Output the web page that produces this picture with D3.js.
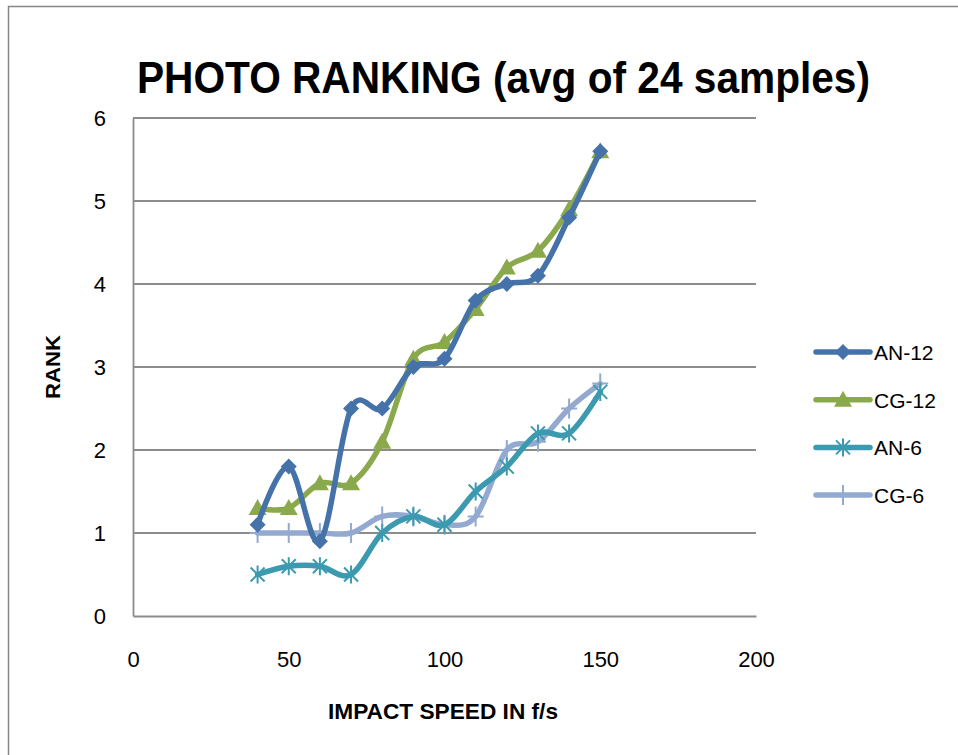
<!DOCTYPE html>
<html>
<head>
<meta charset="utf-8">
<script src="https://cdn.jsdelivr.net/npm/d3@7"></script>
<style>
  body { margin: 0; background: #fff; }
  text { font-family: "Liberation Sans", Arial, sans-serif; }
</style>
</head>
<body>
<div id="container"></div>
<script>
// data
const speeds = [40, 50, 60, 70, 80, 90, 100, 110, 120, 130, 140, 150];
const an12 = [1.1, 1.8, 0.9, 2.5, 2.5, 3.0, 3.1, 3.8, 4.0, 4.1, 4.8, 5.6];
const cg12 = [1.3, 1.3, 1.6, 1.6, 2.1, 3.1, 3.3, 3.7, 4.2, 4.4, 4.9, 5.6];
const an6 = [0.5, 0.6, 0.6, 0.5, 1.0, 1.2, 1.1, 1.5, 1.8, 2.2, 2.2, 2.7];
const cg6 = [1.0, 1.0, 1.0, 1.0, 1.2, 1.2, 1.1, 1.2, 2.0, 2.1, 2.5, 2.8];
const seriesNames = ["AN-12", "CG-12", "AN-6", "CG-6"];
const xTicks = [0, 50, 100, 150, 200];
const yTicks = [0, 1, 2, 3, 4, 5, 6];

const series = [
  { name: seriesNames[0], values: an12, color: "#4573a9", marker: "diamond" },
  { name: seriesNames[1], values: cg12, color: "#8aa94d", marker: "triangle" },
  { name: seriesNames[2], values: an6, color: "#3c9ab0", marker: "star" },
  { name: seriesNames[3], values: cg6, color: "#93a9d0", marker: "plus" }
];

const W = 958, H = 755;
const margin = { left: 133, top: 118, right: 202, bottom: 139 };

const svg = d3.select("#container").append("svg")
  .attr("width", W).attr("height", H);

// outer frame (only left and top edges are in view)
svg.append("path")
  .attr("d", `M8.5,${H} V6.5 H${W}`)
  .attr("fill", "none").attr("stroke", "#868686").attr("stroke-width", 1.5);

const x = d3.scaleLinear().domain([0, 200]).range([margin.left, W - margin.right]);
const y = d3.scaleLinear().domain([0, 6]).range([H - margin.bottom, margin.top]);

// title
svg.append("text")
  .attr("x", 137).attr("y", 93)
  .attr("textLength", 733).attr("lengthAdjust", "spacingAndGlyphs")
  .attr("font-size", 44).attr("font-weight", "bold")
  .text("PHOTO RANKING (avg of 24 samples)");

// gridlines
svg.append("g").selectAll("line")
  .data(yTicks.filter(d => d > 0))
  .join("line")
  .attr("x1", x(0)).attr("x2", x(200))
  .attr("y1", d => y(d)).attr("y2", d => y(d))
  .attr("stroke", "#8c8c8c").attr("stroke-width", 1.8);

// y axis
const yAxis = svg.append("g")
  .attr("transform", `translate(${x(0)},0)`)
  .call(d3.axisLeft(y).tickValues(yTicks).tickSize(0).tickPadding(27).tickFormat(d3.format("d")));
yAxis.select(".domain").attr("stroke", "#8c8c8c").attr("stroke-width", 1.8);
yAxis.selectAll("text").attr("font-size", 22).attr("fill", "#000")
  .attr("font-family", "Liberation Sans, sans-serif");

// x axis
const xAxis = svg.append("g")
  .attr("transform", `translate(0,${y(0)})`)
  .call(d3.axisBottom(x).tickValues(xTicks).tickSize(0).tickPadding(35).tickFormat(d3.format("d")));
xAxis.select(".domain").attr("stroke", "#8c8c8c").attr("stroke-width", 1.8);
xAxis.selectAll("text").attr("font-size", 22).attr("fill", "#000")
  .attr("font-family", "Liberation Sans, sans-serif");

// axis titles
svg.append("text")
  .attr("x", 328).attr("y", 719)
  .attr("textLength", 230).attr("lengthAdjust", "spacingAndGlyphs")
  .attr("font-size", 22).attr("font-weight", "bold")
  .text("IMPACT SPEED IN f/s");
svg.append("text")
  .attr("transform", "translate(60,399) rotate(-90)")
  .attr("textLength", 64).attr("lengthAdjust", "spacingAndGlyphs")
  .attr("font-size", 21).attr("font-weight", "bold")
  .text("RANK");

// marker drawing
function drawMarker(g, type, color) {
  if (type === "diamond") {
    g.append("path").attr("d", "M0,-8 L8,0 L0,8 L-8,0 Z").attr("fill", color);
  } else if (type === "triangle") {
    g.append("path").attr("d", "M0,-9 L9,7 L-9,7 Z").attr("fill", color);
  } else if (type === "star") {
    g.append("path").attr("d", "M-7,-7 L7,7 M-7,7 L7,-7 M0,-9 V9")
      .attr("stroke", color).attr("stroke-width", 2).attr("fill", "none");
  } else if (type === "plus") {
    g.append("path").attr("d", "M0,-10 V10 M-8,0 H8")
      .attr("stroke", color).attr("stroke-width", 2).attr("fill", "none");
  }
}

const line = d3.line()
  .x((d, i) => x(speeds[i]))
  .y(d => y(d))
  .curve(d3.curveCardinal.tension(0));

// draw series (last drawn on top, reverse order like Excel)
series.slice().reverse().forEach(s => {
  const g = svg.append("g");
  g.append("path")
    .attr("d", line(s.values))
    .attr("fill", "none")
    .attr("stroke", s.color)
    .attr("stroke-width", 5.5)
    .attr("stroke-linecap", "round")
    .attr("stroke-linejoin", "round");
  s.values.forEach((v, i) => {
    const m = g.append("g").attr("transform", `translate(${x(speeds[i])},${y(v)})`);
    drawMarker(m, s.marker, s.color);
  });
});

// legend
const legend = svg.append("g").attr("transform", "translate(816,352)");
series.forEach((s, i) => {
  const item = legend.append("g").attr("transform", `translate(0,${i * 47.7})`);
  item.append("line")
    .attr("x1", 0).attr("x2", 54).attr("y1", 0).attr("y2", 0)
    .attr("stroke", s.color).attr("stroke-width", 5.5).attr("stroke-linecap", "round");
  const m = item.append("g").attr("transform", "translate(27,0)");
  drawMarker(m, s.marker, s.color);
  item.append("text")
    .attr("x", 58).attr("y", 8)
    .attr("font-size", 21)
    .text(s.name);
});
</script>
</body>
</html>
